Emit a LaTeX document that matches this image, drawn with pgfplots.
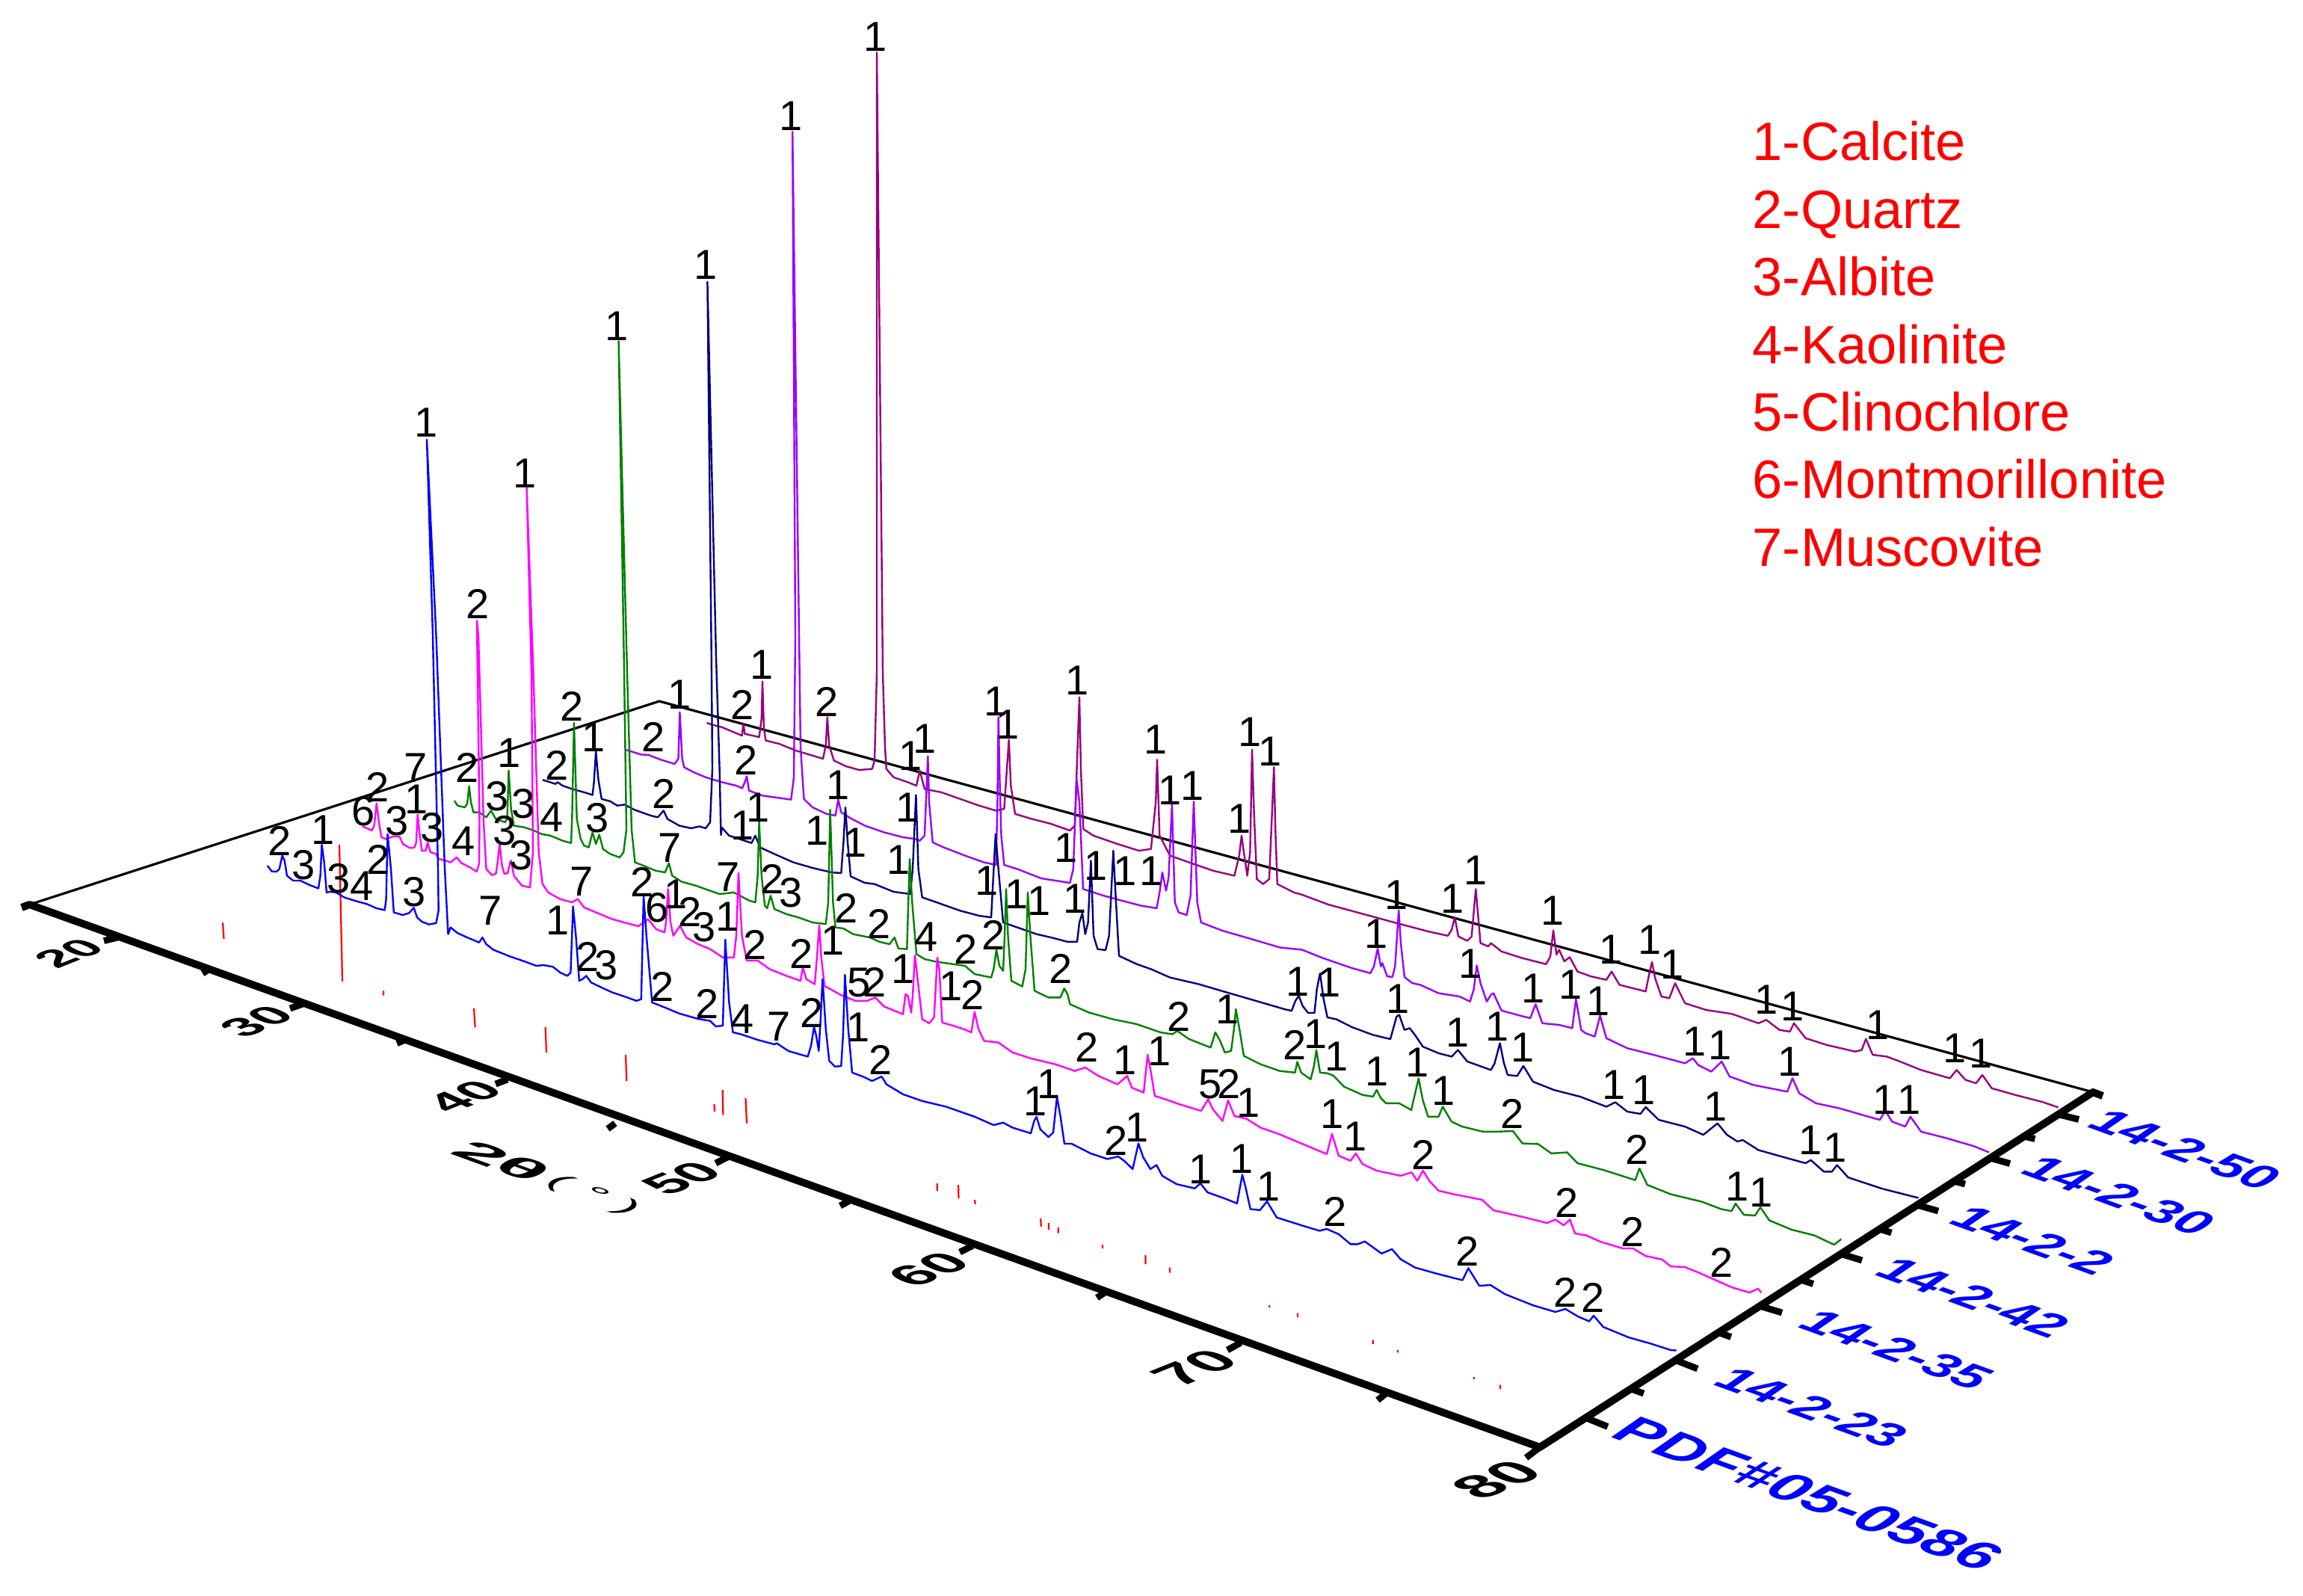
\documentclass[border=0pt]{standalone}
\usepackage{fontspec}
\setmainfont{Liberation Sans}
\usepackage{pgfplots}
\pgfplotsset{compat=1.18}
\definecolor{c50}{HTML}{99007F}
\definecolor{c30}{HTML}{9900FF}
\definecolor{c2}{HTML}{000080}
\definecolor{c42}{HTML}{008000}
\definecolor{c35}{HTML}{FF00FF}
\definecolor{c23}{HTML}{0000FF}
\begin{document}
\begin{tikzpicture}
\useasboundingbox (0,0) rectangle (770.25pt,533.5pt);
\begin{axis}[at={(0,0)},anchor=south west,scale only axis,width=770.25pt,height=533.5pt,
  hide axis,clip=false,xmin=0,xmax=3081,ymin=0,ymax=2134,y dir=reverse,
  unbounded coords=jump,line join=round]
% floor frame
\addplot[black,line width=0.8pt] coordinates {(39.5,1210) (882,938) (2800,1461)};
\addplot[black,line width=2.5pt] coordinates {(29,1214) (39.5,1210) (2060,1936) (2800,1461) (2813,1466)};
% x ticks
\addplot[black,line width=2.2pt] coordinates {(157.5,1254) (139,1258.5) (nan,nan) (405,1343) (388,1349) (nan,nan)
  (679,1444) (663,1450) (nan,nan) (975,1547) (957.5,1556) (nan,nan) (1301,1666.5) (1284,1675) (nan,nan)
  (1660,1796) (1642,1806) (nan,nan) (2060,1936) (2041.6,1950) (nan,nan)
  (280.6,1296) (271,1302) (nan,nan) (541,1391.5) (531,1395.6) (nan,nan) (823,1502.7) (813,1510) (nan,nan)
  (1137,1606) (1124,1613) (nan,nan) (1478,1729) (1467.5,1736) (nan,nan) (1853,1865) (1843,1873)};
% sample ticks
\addplot[black,line width=2.2pt] coordinates {(2123.7,1897.5) (2150.8,1908.5) (nan,nan) (2184.7,1859) (2199,1864) (nan,nan)
  (2242.7,1820) (2271,1831) (nan,nan) (2299,1782.5) (2315.8,1788.5) (nan,nan) (2355.7,1747.5) (2384,1756) (nan,nan)
  (2410.7,1712.5) (2425.7,1717.5) (nan,nan) (2463.4,1677.5) (2491,1686) (nan,nan) (2517.6,1645) (2530.4,1649) (nan,nan)
  (2566.6,1612.5) (2593,1620) (nan,nan) (2614,1580) (2629,1584) (nan,nan) (2662,1549) (2689,1556.5) (nan,nan)
  (2707.4,1520) (2722.4,1523.5) (nan,nan) (2754.9,1491) (2781,1497.5)};
% PDF#05-0586 sticks
\addplot[red,line width=0.55pt] coordinates {(298,1234) (299.5,1256) (nan,nan) (454,1130) (458,1313) (nan,nan)
  (513,1325.4) (513,1331.7) (nan,nan) (634,1348.7) (635.6,1374) (nan,nan) (729.6,1374) (731,1408) (nan,nan)
  (837,1411) (838.3,1446) (nan,nan) (955.5,1477) (956,1487) (nan,nan) (966.7,1458) (967.4,1491.5) (nan,nan)
  (997.5,1469) (999,1502.7) (nan,nan) (1253.8,1583) (1253.8,1593) (nan,nan) (1282,1585) (1282.5,1603) (nan,nan)
  (1304,1605) (1304.8,1610.7) (nan,nan) (1392.2,1630) (1392.9,1641) (nan,nan) (1403,1636) (1403,1645) (nan,nan)
  (1415.8,1642) (1415.8,1649.5) (nan,nan) (1475,1665) (1475,1670) (nan,nan) (1532.5,1679) (1532.5,1691) (nan,nan)
  (1565,1695.5) (1565,1702.7) (nan,nan) (1698.3,1746) (1698.3,1749) (nan,nan) (1736,1756.7) (1736,1762) (nan,nan)
  (1836.7,1792.4) (1836.7,1797.8) (nan,nan) (1870,1805.8) (1870,1809.4) (nan,nan) (1972,1842) (1972,1845) (nan,nan)
  (2007,1852.5) (2007,1858)};
% 14-2-50
\addplot[c50,line width=0.6pt] coordinates {(945.4,967) (953,969.6) (965.8,972.8) (981.8,979.5) (992.6,984) (994.5,968.3) (996.4,981.7)
  (1015.6,986) (1018.8,961.6) (1020,911.6) (1022,975) (1024.5,990.6) (1042.3,995) (1064.7,1004) (1087,1010.7) (1101,1015)
  (1104.8,997) (1106.8,959.4) (1109.3,997) (1115.7,1017.4) (1131.6,1025) (1149.5,1030) (1166.7,1028.6) (1170,1017.4)
  (1173,900) (1173,70) (1181,900) (1184,1000) (1185.8,1028.6) (1195.4,1039.7) (1214.5,1046.4) (1226,1051) (1230.5,1030.8)
  (1236.9,1055.4) (1259,1059.8) (1284.7,1068.8) (1310,1077.7) (1332.5,1084.4) (1343.4,1082) (1347,1028.6) (1349.7,989.7)
  (1352.3,1051) (1358,1088.8) (1380.4,1095.5) (1405.9,1102) (1431.4,1111) (1437.8,1104.5) (1444,932.6) (1446,1028.6)
  (1449.2,1109) (1463,1117.9) (1495,1129) (1523.8,1138) (1539.8,1135.7) (1546.2,1073) (1548,1016) (1551.3,1117.9)
  (1565.3,1144.6) (1590.8,1153.6) (1622.7,1164.7) (1651.4,1171.4) (1657.8,1144.6) (1661,1117.9) (1664,1140) (1668.6,1171.4)
  (1672.4,1140) (1675,1002.7) (1677.6,1086.6) (1681.4,1175.9) (1689.7,1182.6) (1698,1175.9) (1704.3,1026.3) (1706.2,1109)
  (1708.8,1182.6) (1731,1193.8) (1742,1196.9) (1777,1210) (1819,1221.4) (1868.4,1234.8) (1910.5,1246) (1937,1251.8)
  (1942,1243.8) (1946.2,1227.2) (1951,1252.7) (1963,1258.5) (1968.7,1252.7) (1974.3,1189.3) (1980.6,1261.6) (1991,1266)
  (1994.6,1261.6) (2008.7,1272.8) (2036.7,1281.7) (2068.3,1289.7) (2074,1279.5) (2078,1244.6) (2082.3,1277) (2085.8,1270.5)
  (2092.8,1286) (2099.9,1280.4) (2110.4,1299.6) (2128,1306) (2149,1310.7) (2156,1299.6) (2166.5,1317.4) (2201.6,1326.3)
  (2206.5,1301.8) (2210,1287) (2214.2,1308.5) (2222.6,1333) (2233.2,1335.3) (2240.9,1315.2) (2254.2,1342) (2282,1350.9)
  (2317,1356.3) (2352.4,1368.8) (2363,1364.3) (2380.5,1377.7) (2394.5,1380) (2400,1368.8) (2415.5,1388.8) (2443.6,1397.8)
  (2482,1406.7) (2490.6,1404.5) (2496.2,1389.7) (2505.3,1411) (2524.3,1413.4) (2541.8,1420) (2569.9,1431.3) (2608.5,1442.4)
  (2617.6,1431.3) (2629.5,1444.6) (2643.5,1449) (2652,1438) (2664.6,1455.8) (2696,1464.7) (2731,1473.7) (2753.6,1481.3)};
% 14-2-30
\addplot[c30,line width=0.6pt] coordinates {(836.7,1003) (845,1005.4) (857.8,1009.4) (867.3,1009.8) (883.3,1016) (902.4,1021.9) (907.5,1015)
  (909.4,952.7) (912.6,1015) (915.2,1026.3) (927.9,1033) (943.9,1039.7) (966.2,1046.4) (985,1051) (993,1054.5) (996.4,1046.4)
  (999,1038.4) (1002,1057.6) (1020,1064.3) (1042.3,1067.4) (1058.3,1069.6) (1062,1040) (1064,850) (1060.2,176) (1069,850)
  (1071,1000) (1075.5,1068.8) (1087,1080) (1106,1088.8) (1117.6,1091) (1121.4,1069.6) (1125.3,1086.6) (1138,1094.6)
  (1157,1104.5) (1182.7,1113.4) (1208,1120) (1224,1122.3) (1230.5,1124.6) (1236.9,1117.9) (1238.8,1073) (1241.3,1011.6)
  (1243,1073) (1247.7,1126.8) (1262.4,1133.5) (1291,1144.6) (1316.6,1153.6) (1332.5,1157) (1334.4,1073) (1335.7,959.4)
  (1337.6,1051) (1339.5,1117.9) (1343.4,1157) (1361,1162.5) (1393,1175) (1431.4,1181) (1435.8,1162.5) (1440.3,1042)
  (1444,1073) (1449,1189.3) (1476,1198) (1501.5,1205) (1527,1211.6) (1547.4,1215) (1551.3,1193.8) (1555,1167) (1560,1191.5)
  (1563.4,1173.7) (1567.9,1076.3) (1571.7,1207) (1576.8,1220.5) (1587.6,1224) (1592.7,1198) (1597,1072.3) (1601.7,1207)
  (1606.8,1234) (1635.5,1245) (1673.7,1256) (1712,1267.4) (1742,1270.5) (1770,1281.7) (1808.7,1295) (1833.3,1301.8)
  (1838,1292.9) (1843,1269) (1847.3,1292.9) (1849.4,1288.4) (1855.7,1306) (1862.7,1307) (1866.3,1292.9) (1871.2,1217.9)
  (1874,1261.6) (1878.9,1307) (1889.4,1315.2) (1900,1317.4) (1924.5,1328.6) (1952.5,1333) (1966.6,1339.7) (1971.5,1324)
  (1975.7,1291.5) (1980.6,1315.2) (1989,1339.7) (1994.6,1330.8) (1998,1328.6) (2008.7,1351.8) (2029.7,1357.6) (2047.2,1362)
  (2054.3,1343.3) (2063.4,1368.8) (2085.8,1371) (2103.4,1375.4) (2108.3,1336.6) (2115.3,1377.7) (2120.9,1382) (2133.5,1386.6)
  (2140.6,1358.5) (2149,1388.8) (2177,1402.2) (2212,1411) (2254.2,1422.3) (2264.7,1415.6) (2271.7,1424.5) (2289.3,1433.5)
  (2303.3,1420) (2313.8,1440) (2345.4,1451.3) (2391,1460.3) (2398,1442.4) (2407,1462.5) (2429.6,1475.9) (2461,1482.6)
  (2499.7,1493.8) (2515,1498) (2522,1485.7) (2531.3,1500.4) (2548.8,1507) (2555.8,1493.8) (2570,1513.8) (2605,1522.8)
  (2640,1533) (2661,1541.5)};
% 14-2-2
\addplot[c2,line width=0.6pt] coordinates {(725.8,1043.3) (733.4,1045.5) (743,1048.7) (746.2,1046.4) (752.6,1051) (765.3,1055.4) (781.3,1059.8)
  (792.7,1063.4) (794.6,1046.4) (797.2,1005.4) (800.4,1042) (804.8,1068.8) (816.3,1071.9) (825.9,1077.7) (835.5,1076.3)
  (848.2,1083) (870.5,1091) (880,1093.3) (887.8,1084.4) (892.9,1095.5) (908.8,1104.5) (924.7,1108) (935.6,1105.4) (943.9,1108)
  (950,1100) (953,1028) (951.8,880) (946.4,377) (958,880) (962.6,1028) (964.5,1117) (965.8,1107) (975.4,1117.9) (991.3,1123)
  (1005.4,1127.7) (1010.5,1117.9) (1016.8,1133.5) (1036,1142.4) (1061.5,1153.6) (1087,1161) (1112.5,1167) (1125.3,1167.9)
  (1128.4,1126.8) (1131,1080) (1134,1126.8) (1138,1172.3) (1157,1181) (1169.9,1182.6) (1195.4,1192.9) (1217.7,1196)
  (1221,1162.5) (1225.4,1063.4) (1228.6,1162.5) (1233.7,1200.4) (1252.8,1207) (1284.7,1218.3) (1310,1225) (1326,1227.2)
  (1328,1189.3) (1331.9,1115.6) (1335.7,1162.5) (1342,1234) (1361,1240.6) (1386.7,1249.6) (1405.9,1254) (1428,1259.8)
  (1441,1259.8) (1444,1234) (1448,1221.4) (1451.8,1249.6) (1455.6,1234) (1459.4,1151.3) (1463,1251.8) (1468.4,1269.6)
  (1479,1271) (1483.7,1251.8) (1489.4,1138) (1493,1207) (1497,1278.6) (1520.7,1289.7) (1539.8,1296.4) (1565.3,1307.6)
  (1603.6,1316.5) (1641.8,1327.7) (1680,1338.8) (1718.4,1350) (1727.9,1352.2) (1733,1338.8) (1737.5,1332) (1742.6,1345.5)
  (1750,1355) (1758.5,1355) (1761.7,1323.2) (1766,1302) (1770.7,1336.6) (1775.8,1361) (1787.7,1363.4) (1808.7,1374)
  (1836.8,1384.4) (1860,1390) (1868.4,1359.8) (1871.9,1357.6) (1878.9,1377.7) (1885.9,1375.4) (1892.9,1384.4) (1903.4,1400)
  (1924.5,1408.9) (1942,1413.4) (1950.4,1404.5) (1963,1420) (1994.6,1431.3) (1999.5,1422.3) (2006.6,1395.5) (2012,1422.3)
  (2017,1438) (2029.7,1439.3) (2038,1425.9) (2050.8,1446.9) (2078.8,1458) (2113.9,1467) (2149,1480.4) (2161,1474.5)
  (2177,1487) (2194.6,1490) (2201.6,1481) (2219,1498) (2254,1507) (2278.7,1518) (2297.7,1502.7) (2310.3,1518) (2324.3,1527)
  (2331.4,1525) (2352.4,1538.4) (2384,1547.3) (2415.5,1556) (2422.5,1551.8) (2440,1567.4) (2450.6,1567.4) (2457.6,1558.5)
  (2472.4,1575) (2517.6,1590) (2566.6,1602.5)};
% 14-2-42
\addplot[c42,line width=0.6pt] coordinates {(607.8,1071) (612.2,1077.7) (621.8,1080) (625,1075.4) (627.6,1051.8) (630,1073) (633.3,1086.6)
  (641,1086.6) (650.5,1093.3) (656.9,1084.4) (663.3,1095.5) (676,1100) (678.6,1093.3) (680.5,1030.8) (683.7,1082) (687.5,1104.5)
  (701.5,1106.7) (714.3,1111) (723.9,1115.6) (736.6,1117.9) (752.6,1124.6) (764,1127.7) (765.3,1095.5) (767.9,967) (771.7,1095.5)
  (776.8,1122.3) (781.3,1131) (787.6,1133.5) (792.7,1113.4) (797.2,1129) (801.7,1116.5) (806.8,1135.7) (816.3,1142.4) (829,1146.9)
  (834.2,1140) (838,1110) (835,900) (827.6,456.4) (839,900) (845,1110) (849.5,1153.6) (861,1158) (877,1164.7) (889.7,1167)
  (894.8,1154.5) (899.2,1171.4) (912,1179.5) (931,1184.8) (950,1191.5) (962.6,1196) (981.8,1193.8) (1002.8,1205) (1010.5,1207)
  (1013.6,1171.4) (1015.6,1099) (1018.8,1171.4) (1023.2,1211.6) (1026.4,1215) (1030.9,1198) (1036,1216) (1052,1222.8)
  (1067.9,1227.2) (1087,1234) (1104.8,1236) (1108,1207) (1110.6,1083) (1114.4,1207) (1117.6,1240.6) (1128.4,1242) (1141.2,1249.6)
  (1163.5,1254) (1176.3,1259.8) (1190,1263) (1196.7,1254) (1201.8,1268.8) (1213.3,1269.6) (1215.2,1207) (1217,1149) (1220.3,1207)
  (1226,1276.3) (1236.9,1283) (1252.8,1286.6) (1275,1289.7) (1291,1292) (1303.8,1303) (1326,1307.6) (1329.3,1296.4) (1333,1270.5)
  (1337,1292) (1342,1298.7) (1344,1251.8) (1346,1189.3) (1348.5,1251.8) (1353,1312) (1367.6,1319.6) (1372,1296.4) (1375,1193.8)
  (1378.4,1251.8) (1384,1325.4) (1402.7,1334.4) (1418.6,1334.4) (1423.7,1322.3) (1428.2,1330) (1431.4,1343.3) (1456.9,1354.5)
  (1488.8,1363.4) (1520.7,1370) (1552.6,1381) (1568.5,1383.5) (1574.9,1379) (1590.8,1390) (1619.5,1401.3) (1625.9,1381)
  (1632.3,1392.4) (1638.7,1408) (1647,1405.8) (1651.4,1372) (1653.3,1350) (1657.8,1374.6) (1664,1412.5) (1686.5,1423.7)
  (1712,1432.6) (1732.4,1434.8) (1735.6,1420.5) (1740.7,1434.8) (1753.4,1443.8) (1757.9,1425.9) (1761,1404.5) (1766,1434.8)
  (1775.8,1435.7) (1784,1439) (1798,1453.6) (1822.8,1464.7) (1836.8,1467) (1841.7,1458) (1847.3,1469) (1854.3,1475.9)
  (1871.9,1475.9) (1888,1484.8) (1897.8,1442.4) (1903.4,1471.4) (1910.5,1493.8) (1924.5,1493.8) (1930,1480.4) (1942,1500.4)
  (1956,1507) (1984,1513.8) (2003,1513.8) (2024,1513) (2036.7,1529.5) (2057.8,1530.4) (2075.3,1542.9) (2096.4,1541.5)
  (2110.4,1556) (2145.5,1565.2) (2187.6,1578.6) (2193.2,1563) (2203.7,1585) (2235,1597.5) (2276.6,1607.5) (2303,1617.5)
  (2316.5,1620) (2321.8,1610) (2333,1625) (2348,1626) (2355,1615) (2367,1632.5) (2397,1645) (2427,1652.5) (2453.6,1665)
  (2463.4,1657.5)};
% 14-2-35
\addplot[c35,line width=0.6pt] coordinates {(484.7,1105.4) (491,1108) (497.4,1111) (500.6,1104.5) (503.8,1074.6) (507,1100) (510.2,1120)
  (516.6,1122.3) (526,1119) (534.4,1119) (539,1129) (548.5,1134.4) (554.8,1133.5) (556.8,1126.8) (558.7,1089.7) (561.2,1113.4)
  (564.4,1138) (569.5,1138) (572,1126.8) (575.9,1140) (583.5,1142.4) (586.7,1149) (596.3,1151.3) (602.7,1153.6) (611,1146.9)
  (617.3,1154.5) (628.2,1160) (637.8,1166) (641,1155) (641.5,1100) (638,830) (640,850) (647,1100) (650.5,1162.5) (658,1170.5)
  (663.3,1169) (665.2,1158) (668.4,1129) (671.6,1158) (674.7,1169) (679.2,1167.9) (682.4,1153.6) (683.7,1151.3) (687.5,1171.4)
  (698.3,1184.8) (709,1187) (713,1140) (711,900) (704.6,652.7) (713.5,900) (720.7,1140) (725.8,1182.6) (733.4,1193.8)
  (749.4,1202.7) (765.3,1207) (773,1202.7) (781.3,1213.8) (797.2,1220.5) (819,1229.5) (838,1234.8) (854,1239) (867,1229.5)
  (877.8,1242.9) (889,1247.3) (891,1234) (893.8,1189.3) (897,1234) (900.8,1251.8) (909.7,1238.4) (918,1254) (934,1263)
  (950,1269.6) (967,1280.8) (981.8,1280.8) (985,1251.8) (988,1167.9) (992.6,1251.8) (999,1285) (1013.6,1285) (1029.6,1296.4)
  (1052,1305.4) (1071,1312) (1074,1294) (1078.7,1309.8) (1090,1316.5) (1093.4,1274) (1096,1237.5) (1098.5,1278.6) (1103,1318.8)
  (1125,1331) (1144.4,1338.8) (1160,1338.8) (1171,1334.4) (1182.7,1346.4) (1208,1356.7) (1211.4,1330) (1214.5,1332) (1219,1354.5)
  (1221,1332) (1224,1277.7) (1228.6,1318.8) (1233.7,1363.4) (1243,1368.8) (1249.6,1361) (1254,1280.8) (1256.6,1296.4)
  (1260.5,1367.9) (1275,1372) (1289.8,1376.8) (1299.4,1381) (1303.8,1353.6) (1309,1376.8) (1316.6,1392.4) (1335.7,1394.6)
  (1354.8,1408) (1380,1416) (1412,1423.7) (1437.8,1432.6) (1451.8,1428) (1469.6,1439.3) (1495,1450.4) (1507.9,1439.3)
  (1514.3,1455) (1530,1461.6) (1535.3,1411) (1539.8,1434.8) (1544.9,1466) (1559,1470.5) (1578,1477.2) (1606.8,1486)
  (1616.3,1470.5) (1622.7,1484) (1635.5,1499.5) (1643,1471.9) (1651.4,1492.9) (1667.3,1496.4) (1686.5,1508.5) (1712,1517.4)
  (1743.9,1530.8) (1775,1543.8) (1782,1517) (1790.8,1546) (1806.8,1552.7) (1813.8,1542.9) (1822.7,1557) (1841.8,1566)
  (1873.7,1572.8) (1888.4,1568.3) (1896,1579.5) (1903.7,1566) (1912,1579.5) (1924.7,1592.9) (1945,1597.5) (1982.8,1605)
  (1998,1619) (2035.6,1627.5) (2069.5,1636) (2080.8,1631.5) (2092,1639) (2100.3,1631.5) (2107,1650) (2122,1652.5) (2141,1661)
  (2171,1670) (2184.7,1670) (2201.3,1680) (2223.9,1685) (2235,1694) (2254,1695) (2272.8,1702.5) (2295.4,1712.5) (2318,1722.5)
  (2340.6,1729) (2351.9,1724) (2356.4,1729)};
% 14-2-23
\addplot[c23,line width=0.6pt] coordinates {(357.8,1158) (363.5,1165.6) (369.9,1166) (373.7,1162.5) (377.6,1144.6) (380.7,1151.3) (383.9,1171.4)
  (392.2,1178) (401.8,1178) (414.5,1184) (426,1188.4) (428.6,1171.4) (430.5,1130) (433.7,1153.6) (436.9,1193.8) (441.3,1192.9)
  (449.6,1193.8) (460.5,1200.4) (475,1205) (491,1209.4) (503.8,1215) (514.7,1217.4) (516.6,1202.7) (518.5,1115.6) (523,1162.5)
  (526.8,1220.5) (538.9,1224) (547.2,1221.4) (553.6,1214.3) (558,1227.2) (564.4,1233) (574,1236.6) (583.5,1234.8) (586.7,1218)
  (586,1162) (579,850) (571,588) (583.5,850) (595,1162) (599.5,1249.6) (602.7,1240.6) (612.2,1248.2) (625,1254) (641,1260.7)
  (645.4,1254) (650.5,1263) (660,1270.5) (682.4,1279.5) (701.5,1286) (717.5,1292) (727,1291) (739.8,1293.3) (749.4,1301)
  (759,1305.4) (763.4,1301) (766.6,1212.5) (770.4,1251.8) (774.9,1312) (779.3,1309.8) (784.4,1305.4) (790.8,1314.3) (804.8,1321)
  (819.5,1327.7) (835.5,1333) (851.4,1338.8) (857.8,1336.6) (861,1199) (864.8,1251.8) (872.4,1341) (889.7,1347.8) (908.8,1355.8)
  (934,1363) (950,1365.6) (957.5,1373) (967,1372) (970.3,1257) (975.4,1341) (980.5,1381) (991.3,1383.5) (1013.6,1391) (1036,1397)
  (1039,1395.5) (1055,1406) (1080.6,1413.4) (1085,1399) (1089,1373.7) (1092,1385.7) (1095.3,1405.8) (1097.8,1363.4) (1100.4,1309.8)
  (1104.8,1376.8) (1109.3,1419) (1117,1426.8) (1125.3,1426) (1127.8,1385.7) (1130.4,1304) (1134.8,1376.8) (1140,1434.8) (1154,1440)
  (1166.7,1446) (1179.5,1440) (1185.8,1450.4) (1208,1463.8) (1233.7,1472.8) (1265.6,1480.4) (1303.8,1493.8) (1329.3,1505)
  (1342,1501.8) (1354.8,1508.5) (1379,1516) (1383.5,1499.5) (1386.7,1494) (1391.8,1510.7) (1402.7,1521) (1409,1515) (1414,1467.4)
  (1418.6,1493) (1424,1530) (1433.7,1530) (1459,1542.9) (1481.5,1550.4) (1496,1547) (1503.8,1552.7) (1515.3,1563.8) (1519.8,1543.8)
  (1523,1529.5) (1529.3,1548) (1539,1563.8) (1547.2,1558.5) (1554.8,1572.8) (1574,1584) (1598.2,1589.7) (1605.9,1583) (1615.4,1595)
  (1637.8,1603) (1655,1609.8) (1658,1592.9) (1662,1571.4) (1666.4,1588.4) (1672.8,1617.4) (1685.6,1618.8) (1695,1607) (1707.9,1628.6)
  (1743,1639.7) (1765.3,1646.4) (1774.9,1644) (1790.8,1650.9) (1806.8,1664.3) (1816.3,1664.3) (1825.9,1660.7) (1848.2,1676.8)
  (1862.2,1671) (1873.7,1684.4) (1892.9,1695.5) (1924.7,1704.5) (1956.6,1712.5) (1964.3,1696.4) (1979,1720) (1994,1719) (2013,1731)
  (2050.6,1746) (2080.8,1755) (2094.3,1751) (2110.9,1761) (2126,1767.5) (2132,1760) (2144.8,1775) (2178.7,1789) (2208.8,1797.5)
  (2235.2,1806) (2242.7,1806.5)};
% phase numbers over the peaks
\addplot[draw=none,mark=none,point meta=explicit symbolic,nodes near coords,
  every node near coord/.style={anchor=center,inner sep=0pt,font=\fontsize{14pt}{14pt}\selectfont,black}]
  table[x=x,y=y,meta=l] {
x y l
374 1124.6 2
405.6 1157 3
432.4 1110 1
453.4 1175 3
484 1185 4
505.7 1150 2
553.6 1193 3
655.6 1218 7
746 1231 1
785.7 1279.5 2
811 1291 3
886.5 1319.6 2
945.8 1343.3 2
972.6 1226 1
993 1363.4 4
570 565.4 1
486 1085 6
505 1053 2
556 1027.7 7
530.6 1097.8 3
556.8 1069.6 1
578.4 1106.7 3
620 1125.4 4
674.7 1111 3
697 1143.8 3
778 1179.5 7
859 1179.5 2
878.8 1213.8 6
903.7 1196 1
922.8 1219.6 2
942 1240.6 3
638.8 808 2
702 633 1
625 1027 2
665 1065 3
681 1007 1
699.6 1075.4 3
737.9 1093.3 4
765.3 945 2
799 1094.6 3
896 1134.4 7
973.9 1173.7 7
825.5 436.3 1
745 1024 2
794 986 1
887.8 1062 2
943.9 354 1
993.2 1104.5 1
1013.6 1080 1
873.7 986 2
908.8 929.5 1
997.7 1017.4 2
1120.8 1050 1
1057.6 155 1
993.2 943 2
1018.8 889.3 1
1106 939.3 2
1171 48.8 1
1042 1373 7
1085.7 1354.5 2
1147.6 1374.6 1
1178.2 1417.9 2
1114.4 1258.5 1
1149.5 1314.3 5
1169.9 1314.3 2
1010.5 1264.3 2
1072.3 1276.3 2
1208 1296.4 1
1238.8 1253 4
1272 1318.8 1
1300.6 1331 2
1292.3 1269.6 2
1329.3 1251 2
1418.6 1295.5 2
1093.4 1111 1
1144.4 1127.7 1
1131.6 1215 2
1176.3 1236 2
1032.8 1176 2
1058.3 1194.6 3
1201.8 1150 1
1214.5 1080 1
1217.7 1011.6 1
1236.9 988.4 1
1332.5 938.4 1
1348.5 969.6 1
1319.8 1178 1
1360 1196 1
1390 1205 1
1441 910 1
1426 1134.4 1
1466.4 1158 1
1504.7 1165.6 1
1539.8 1165.6 1
1437.8 1202.7 1
1546 989.3 1
1565.3 1057.6 1
1595.3 1051 1
1671.8 979.5 1
1657.8 1095.5 1
1699 1005.4 1
1735.6 1313 1
1777.7 1314.3 1
1576.8 1359.8 2
1641.8 1350 1
1732.4 1398 2
1759.8 1383.5 1
1788.5 1413.4 1
1453.7 1401.3 2
1504.7 1417.9 1
1551.3 1405.8 1
1619.5 1450.4 5
1643.7 1450.4 2
1670.5 1475 1
1782 1490.6 1
1385.5 1472.8 1
1402.7 1450.4 1
1493 1526.3 2
1520.7 1508.5 1
1605.9 1563.8 1
1661.4 1550.4 1
1697 1587.5 1
1785.7 1621 2
1963 1674 2
1813 1520.5 1
1904 1544.6 2
1841.8 1433 1
1896 1421 1
1931 1459 1
1870.5 1336 1
1950 1380.8 1
1840.6 1249 1
1967.4 1289 1
1868.4 1196.9 1
1943.4 1202.7 1
1973.6 1164.3 1
2076.7 1217.9 1
2154.6 1270.5 1
2207.2 1257 1
2236.6 1290.6 1
2050.8 1321.9 1
2101 1317.4 1
2138.4 1339.7 1
2003 1373 1
2036.7 1401 1
2266.8 1393.3 1
2301.2 1397.8 1
2394.5 1420 1
2363 1337.5 1
2398 1346.4 1
2511.6 1371 1
2615.5 1402 1
2650.5 1409 1
2520.8 1471.4 1
2554.4 1471.4 1
2159.5 1451.3 1
2199.5 1458 1
2295 1480.4 1
2422.5 1525 1
2455.5 1534.8 1
2022.7 1490.2 2
2189.7 1538.4 2
2324 1587.5 1
2355.7 1595 1
2095.8 1609 2
2184 1647.5 2
2303 1688.5 2
2094.3 1729 2
2131.2 1736 2
};
% legend
\foreach \yy/\tt in {214.6/1-Calcite,305/2-Quartz,395.4/3-Albite,486/4-Kaolinite,576/5-Clinochlore,666.6/6-Montmorillonite,757/7-Muscovite}{
  \edef\tmp{\noexpand\node[anchor=base west,inner sep=0pt,text=red,font=\noexpand\fontsize{18.05pt}{18.05pt}\noexpand\selectfont] at (axis cs:2344,\yy) {\tt};}\tmp
}
% x tick labels, lying on the floor plane
\foreach \xx/\yy/\tt/\kk in {93/1275/20/0.85,344/1366.5/30/0.9,621/1467/40/0.93,912/1576/50/0.97,1242/1698/60/1,1598/1829.5/70/1.05,2002/1979/80/1.1}{
  \edef\tmp{\noexpand\node[scale=\kk,cm={1.0,0.40,-0.85,0.38,(0pt,0pt)},inner sep=0pt,font=\noexpand\bfseries\noexpand\fontsize{18pt}{18pt}\noexpand\selectfont] at (axis cs:\xx,\yy) {\tt};}\tmp
}
\node[cm={0.94,-0.34,0.44,0.25,(0pt,0pt)},inner sep=0pt,font=\bfseries\fontsize{27pt}{27pt}\selectfont] at (axis cs:672,1553) {2θ};
\node[cm={0.94,-0.34,0.44,0.25,(0pt,0pt)},inner sep=0pt,font=\fontsize{19pt}{19pt}\selectfont] at (axis cs:793,1599) {( ° )};
% sample names, lying on the floor plane
\foreach \xx/\yy/\tt in {2922.8/1537.5/14-2-50,2834/1599/14-2-30,2718.7/1658.5/14-2-2,2639.6/1735/14-2-42,2536.4/1805/14-2-35,2423.5/1882.5/14-2-23}{
  \edef\tmp{\noexpand\node[cm={0.91,-0.33,0.48,0.52,(0pt,0pt)},inner sep=0pt,text=blue,font=\noexpand\bfseries\noexpand\itshape\noexpand\fontsize{19pt}{19pt}\noexpand\selectfont] at (axis cs:\xx,\yy) {\tt};}\tmp
}
\node[cm={0.91,-0.33,0.48,0.52,(0pt,0pt)},inner sep=0pt,text=blue,font=\bfseries\itshape\fontsize{22pt}{22pt}\selectfont] at (axis cs:2418,1997.5) {PDF\#05-0586};
\end{axis}
\end{tikzpicture}
\end{document}
